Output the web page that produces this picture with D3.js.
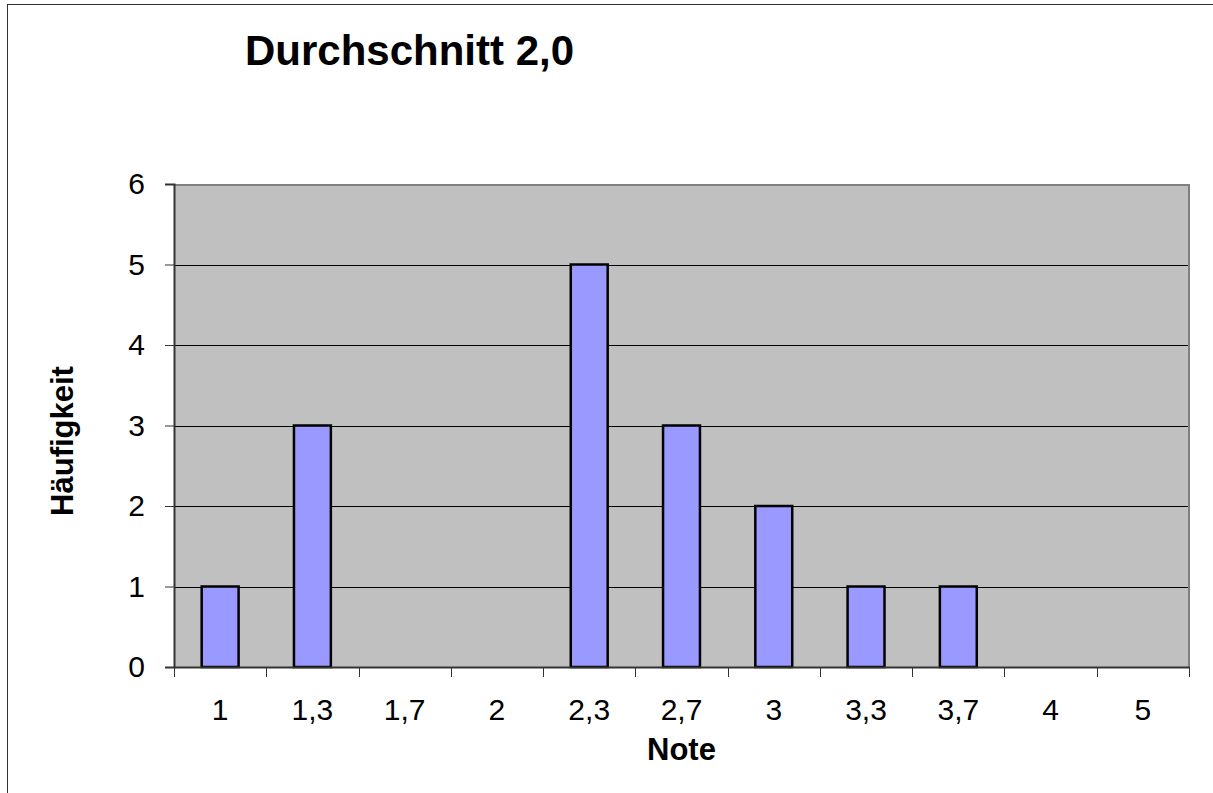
<!DOCTYPE html>
<html><head><meta charset="utf-8">
<script src="https://cdn.jsdelivr.net/npm/d3@7"></script>
<style>body{margin:0;background:#fff}svg{display:block}text{font-family:"Liberation Sans",Arial,sans-serif}</style>
</head><body>
<svg id="c" width="1213" height="793"></svg>
<script>
const categories = ["1","1,3","1,7","2","2,3","2,7","3","3,3","3,7","4","5"];
const counts = [1,3,0,0,5,3,2,1,1,0,0];
const yTicks = [0,1,2,3,4,5,6];
const title = "Durchschnitt 2,0";
const xTitle = "Note";
const yTitle = "Häufigkeit";

const svg = d3.select("#c");
const L = 174, R = 1189, T = 184, B = 667;

svg.append("rect").attr("x",7.5).attr("y",4.5).attr("width",1300).attr("height",900)
  .attr("fill","#fff").attr("stroke","#333").attr("stroke-width",1);

const x = d3.scaleBand().domain(categories).range([L,R]).padding(0);
const y = d3.scaleLinear().domain([0,6]).range([B,T]);

svg.append("rect").attr("x",L).attr("y",T).attr("width",R-L).attr("height",B-T).attr("fill","#C0C0C0");

svg.append("g").selectAll("line").data(yTicks.filter(d=>d>0 && d<6)).join("line")
  .attr("x1",L).attr("x2",R).attr("y1",d=>Math.round(y(d))+0.5).attr("y2",d=>Math.round(y(d))+0.5)
  .attr("stroke","#000").attr("stroke-width",1);

svg.append("path").attr("d",`M${L},${T+1}H${R}V${B}`).attr("fill","none").attr("stroke","#808080").attr("stroke-width",2);

const bw = x.bandwidth()*0.4;
svg.append("g").selectAll("rect").data(categories.map((c,i)=>({c,v:counts[i]})).filter(d=>d.v>0)).join("rect")
  .attr("x",d=>x(d.c)+x.bandwidth()/2-bw/2).attr("width",bw)
  .attr("y",d=>y(d.v)).attr("height",d=>y(0)-y(d.v))
  .attr("fill","#9999FF").attr("stroke","#000").attr("stroke-width",2.5);

const yAxis = d3.axisLeft(y).tickValues(yTicks).tickFormat(d3.format("d")).tickSize(9).tickPadding(20);
const gy = svg.append("g").attr("transform",`translate(${L},0)`).call(yAxis);
gy.select(".domain").attr("stroke","#333").attr("stroke-width",2);
gy.selectAll(".tick line").attr("stroke","#333");
gy.selectAll("text").attr("font-size",30).attr("fill","#000").attr("font-family","Liberation Sans, Arial, sans-serif");

const xAxis = d3.axisBottom(x).tickSize(0).tickPadding(32);
const gx = svg.append("g").attr("transform",`translate(0,${B})`).call(xAxis);
gx.select(".domain").attr("stroke","#333").attr("stroke-width",2);
gx.selectAll("text").attr("font-size",30).attr("fill","#000").attr("font-family","Liberation Sans, Arial, sans-serif");
const bounds = categories.map(c=>x(c)).concat([R]);
gx.selectAll(".bt").data(bounds).join("line").attr("class","bt")
  .attr("x1",d=>Math.round(d)+0.5).attr("x2",d=>Math.round(d)+0.5).attr("y1",0).attr("y2",10).attr("stroke","#333");

svg.append("text").attr("x",245).attr("y",65).attr("font-size",42).attr("font-weight","bold").text(title);
svg.append("text").attr("x",(L+R)/2).attr("y",760).attr("text-anchor","middle").attr("font-size",31).attr("font-weight","bold").text(xTitle);
svg.append("text").attr("transform",`translate(73,441) rotate(-90)`).attr("text-anchor","middle").attr("font-size",31).attr("font-weight","bold").text(yTitle);
</script>
</body></html>
